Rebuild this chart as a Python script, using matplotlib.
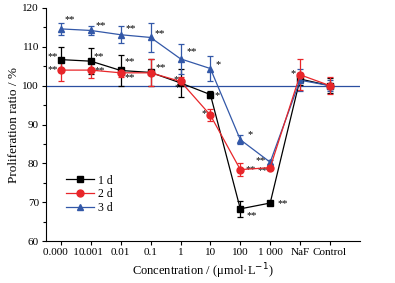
""" Proliferation ratio vs. concentration, three time points. """

import numpy as np
import matplotlib.pyplot as plt
from matplotlib.lines import Line2D
from matplotlib.ticker import MultipleLocator

plt.rcParams['font.family'] = ['Liberation Serif', 'DejaVu Serif']
plt.rcParams['font.size'] = 8

# data
categories = ['0.000  1', '0.001', '0.01', '0.1', '1', '10', '100', '1 000', 'NaF', 'Control']
series = ['1 d', '2 d', '3 d']
ratio_1d = [106.7, 106.3, 103.9, 103.4, 100.7, 97.7, 68.3, 69.8, 101.7, 100.0]
err_1d = [3.2, 3.4, 4.0, 3.5, 3.5, 1.0, 2.0, 0.5, 1.5, 2.0]
ratio_2d = [104.0, 104.0, 103.3, 103.3, 101.1, 92.4, 78.4, 78.9, 102.8, 100.0]
err_2d = [2.9, 2.0, 1.0, 3.5, 1.0, 1.6, 1.6, 0.5, 4.0, 2.2]
ratio_3d = [114.6, 114.2, 113.1, 112.4, 106.9, 104.4, 86.1, 80.3, 101.4, 100.0]
err_3d = [1.5, 1.2, 2.2, 3.7, 3.8, 3.2, 1.2, 0.5, 2.8, 1.5]
# significance marks: (index, text)
stars_1d = [(0, '**'), (1, '**'), (2, '**'), (3, '**'), (4, '*'), (5, '*'), (6, '**'), (7, '**')]
stars_2d = [(0, '**'), (1, '**'), (2, '**'), (4, '*'), (5, '*'), (6, '**'), (7, '**'), (8, '*')]
stars_3d = [(0, '**'), (1, '**'), (2, '**'), (3, '**'), (4, '**'), (5, '*'), (6, '*'), (7, '**')]

# star placement in pixels (dx, dy up), horizontal alignment
star_pos = {
    '1d': {0: (-3, 3, 'right'), 1: (3, 5, 'left'), 2: (4, 9, 'left'), 3: (5, 5, 'left'),
           4: (-1, -5, 'right'), 5: (4, -1, 'left'), 6: (6, -7, 'left'), 7: (7, -1, 'left')},
    '2d': {0: (-3, 0, 'right'), 1: (4, -1, 'left'), 2: (4, -5, 'left'),
           4: (-2, 2, 'right'), 5: (-4, 2, 'right'), 6: (5, 0, 'left'), 7: (-2, -3, 'right'),
           8: (-4, 1, 'right')},
    '3d': {0: (4, 9, 'left'), 1: (5, 5, 'left'), 2: (5, 6, 'left'), 3: (4, 4, 'left'),
           4: (6, 7, 'left'), 5: (5, 4, 'left'), 6: (7, 5, 'left'), 7: (-4, 2, 'right')},
}

fig = plt.figure(figsize=(3.95, 2.83), dpi=100)
ax = fig.add_axes([0.1165, 0.148, 0.7945, 0.824])

x = np.arange(len(categories))
ax.axhline(100, color='#2b4fa0', lw=0.9, zorder=1)

styles = [
    ('1d', ratio_1d, err_1d, stars_1d, 'black', 's'),
    ('3d', ratio_3d, err_3d, stars_3d, '#3358a8', '^'),
    ('2d', ratio_2d, err_2d, stars_2d, '#e8262a', 'o'),
]
handles = {}
for key, vals, errs, stars, color, marker in styles:
    ax.errorbar(x, vals, yerr=errs, color=color, marker=marker, ms=5, lw=0.9,
                elinewidth=0.9, capsize=2.5, capthick=0.9, zorder=3)
    handles[key] = Line2D([], [], color=color, marker=marker, ms=5, lw=0.9)
    for i, txt in stars:
        dx, dy, ha = star_pos[key][i]
        ax.annotate(txt, (x[i], vals[i]), xytext=(dx, dy), textcoords='offset pixels',
                    ha=ha, va='center', fontsize=7.5)

ax.set_xlim(-0.5, 10)
ax.set_ylim(60, 120)
ax.set_xticks(x)
ax.set_xticklabels(categories)
ax.yaxis.set_major_locator(MultipleLocator(10))
ax.yaxis.set_minor_locator(MultipleLocator(5))
ax.tick_params(axis='both', which='major', length=3, width=0.8, pad=2)
ax.tick_params(axis='y', which='minor', length=2, width=0.8)
for s in ['top', 'right']:
    ax.spines[s].set_visible(False)

ax.set_xlabel('Concentration / (μmol·L$^{-1}$)', labelpad=3, fontsize=9)
ax.set_ylabel('Proliferation ratio / %', labelpad=2, fontsize=9.5)

ax.legend([handles['1d'], handles['2d'], handles['3d']], series, frameon=False,
          loc='lower left', bbox_to_anchor=(0.03, 0.07), handlelength=2.4,
          handletextpad=0.3, labelspacing=0.15, borderaxespad=0.5, fontsize=8.5)

fig.savefig('out.png', dpi=100)
